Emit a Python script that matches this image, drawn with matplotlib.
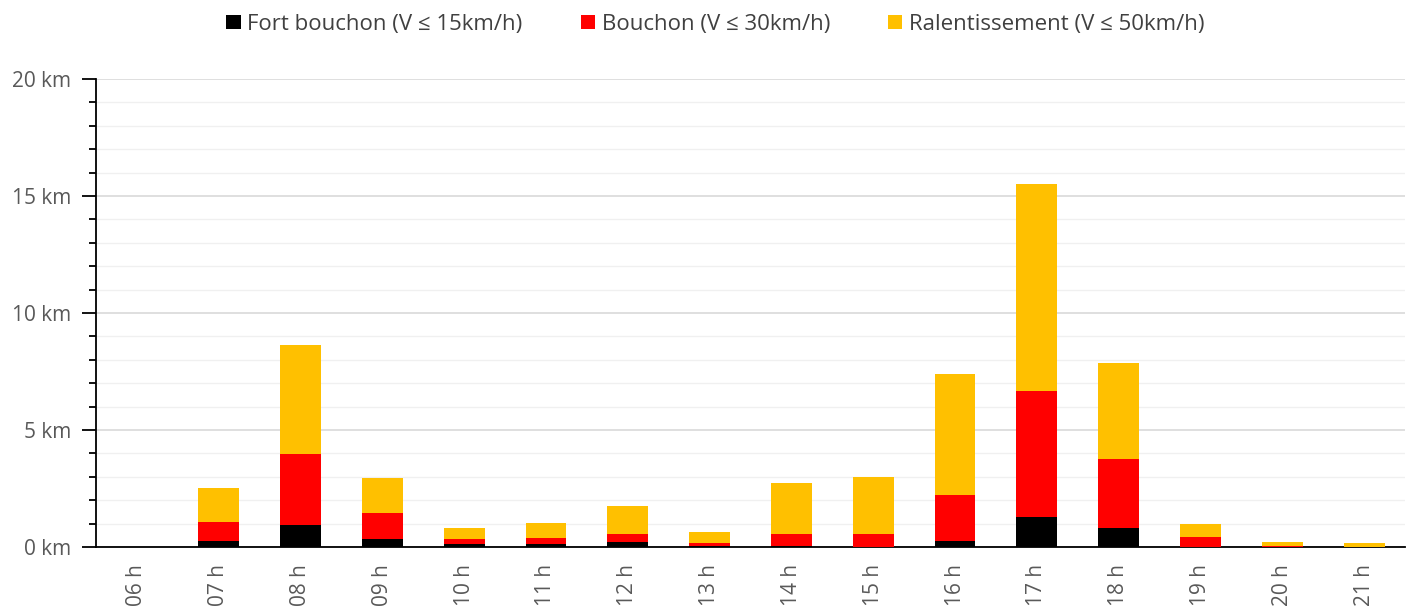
import matplotlib.pyplot as plt
from matplotlib.ticker import MultipleLocator, FuncFormatter

hours = ["06 h", "07 h", "08 h", "09 h", "10 h", "11 h", "12 h", "13 h",
         "14 h", "15 h", "16 h", "17 h", "18 h", "19 h", "20 h", "21 h"]

# km per level (stacked segments)
fort_bouchon = [0, 0.27, 0.94, 0.34, 0.14, 0.14, 0.20, 0.03,
                0.04, 0.02, 0.27, 1.28, 0.81, 0.02, 0.01, 0.0]
bouchon = [0, 0.79, 3.05, 1.10, 0.20, 0.23, 0.37, 0.15,
           0.50, 0.54, 1.94, 5.39, 2.96, 0.39, 0.04, 0.02]
ralentissement = [0, 1.46, 4.64, 1.49, 0.47, 0.66, 1.20, 0.45,
                  2.18, 2.42, 5.18, 8.84, 4.09, 0.56, 0.18, 0.14]

labels = ["Fort bouchon (V ≤ 15km/h)", "Bouchon (V ≤ 30km/h)",
          "Ralentissement (V ≤ 50km/h)"]
colors = ["#000000", "#FF0000", "#FFC000"]

plt.rcParams['font.family'] = ['Open Sans', 'DejaVu Sans']

fig = plt.figure(figsize=(14.11, 6.12), dpi=100)
ax = fig.add_axes([96 / 1411, 1 - 547 / 612, 1309 / 1411, 468 / 612])

x = list(range(len(hours)))
bottom2 = [a + b for a, b in zip(fort_bouchon, bouchon)]
ax.bar(x, fort_bouchon, width=0.5, color=colors[0], label=labels[0], zorder=3)
ax.bar(x, bouchon, width=0.5, bottom=fort_bouchon, color=colors[1], label=labels[1], zorder=3)
ax.bar(x, ralentissement, width=0.5, bottom=bottom2, color=colors[2], label=labels[2], zorder=3)

ax.set_xlim(-0.5, 15.5)
ax.set_ylim(0, 20)
ax.yaxis.set_major_locator(MultipleLocator(5))
ax.yaxis.set_minor_locator(MultipleLocator(1))
ax.yaxis.set_major_formatter(FuncFormatter(lambda v, p: f"{int(v)} km"))
ax.grid(axis='y', which='major', color='#d9d9d9', linewidth=1.2, zorder=0)
ax.grid(axis='y', which='minor', color='#f0f0f0', linewidth=1.0, zorder=0)

ax.set_xticks(x)
ax.set_xticklabels(hours, rotation=90)
ax.tick_params(axis='x', length=0, pad=12, labelsize=15, labelcolor='#595959')
ax.tick_params(axis='y', which='major', length=10, width=1.3, labelsize=15,
               labelcolor='#595959', pad=8)
ax.tick_params(axis='y', which='minor', length=5, width=1.3)

for s in ['top', 'right']:
    ax.spines[s].set_visible(False)
ax.spines['left'].set_linewidth(1.3)
ax.spines['bottom'].set_linewidth(1.3)

fig.legend(loc='upper center', bbox_to_anchor=(0.507, 1.01), ncol=3, frameon=False,
           fontsize=16, labelcolor='#404040', handlelength=0.65, handleheight=0.65,
           handletextpad=0.3, columnspacing=2.6)

fig.savefig("out.png", dpi=100)
